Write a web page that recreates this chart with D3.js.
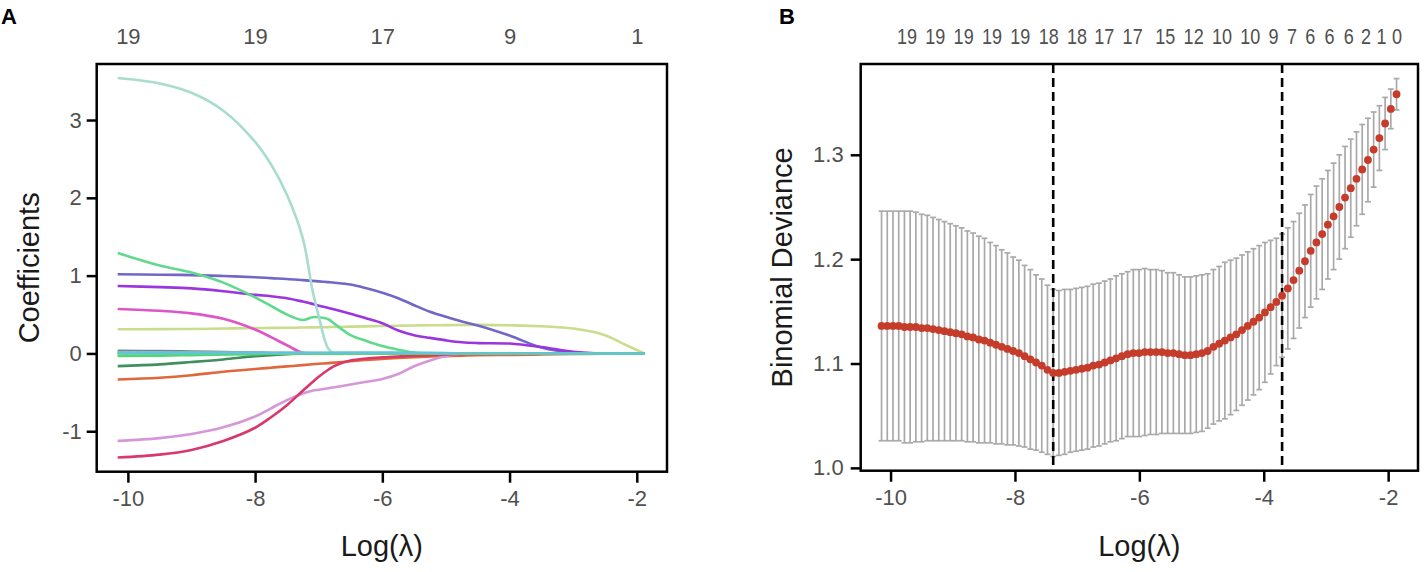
<!DOCTYPE html>
<html>
<head>
<meta charset="utf-8">
<script src="https://cdn.jsdelivr.net/npm/d3@7"></script>
<style>
  body { margin: 0; background: #fff; }
  svg text { font-family: 'Liberation Sans', Arial, sans-serif; }
</style>
</head>
<body>
<div id="chart"></div>
<script>
// ---------- panel A: coefficient paths ----------
const logLambdaA = [-10.16, -9.5, -9, -8.5, -8, -7.75, -7.5, -7.25, -7.1, -7, -6.85, -6.75, -6.5,
  -6.25, -6, -5.75, -5.5, -5.25, -5, -4.75, -4.5, -4, -3.5, -3, -2.5, -2.2, -1.88]

const coefTeal = [3.54, 3.47, 3.35, 3.12, 2.72, 2.43, 2.04, 1.48, 0.82, 0.48, 0.06, 0, 0,
  0, 0, 0, 0, 0, 0, 0, 0, 0, 0, 0, 0, 0, 0]
const coefGreen = [1.29, 1.13, 1.04, 0.91, 0.72, 0.61, 0.50, 0.43, 0.465, 0.465, 0.44, 0.38, 0.235,
  0.16, 0.095, 0.048, 0.01, 0, 0, 0, 0, 0, 0, 0, 0, 0, 0]
const coefSlate = [1.017, 1.012, 1.007, 0.995, 0.98, 0.968, 0.957, 0.942, 0.933, 0.926, 0.916, 0.909, 0.885,
  0.837, 0.78, 0.71, 0.62, 0.536, 0.47, 0.41, 0.36, 0.23, 0.075, 0.008, 0, 0, 0]
const coefViolet = [0.867, 0.852, 0.836, 0.80, 0.753, 0.735, 0.71, 0.667, 0.637, 0.613, 0.585, 0.565, 0.51,
  0.45, 0.388, 0.295, 0.235, 0.20, 0.168, 0.143, 0.133, 0.127, 0.082, 0.022, 0, 0, 0]
const coefMagenta = [0.571, 0.548, 0.515, 0.445, 0.307, 0.21, 0.105, 0.005, 0, 0, 0, 0, 0,
  0, 0, 0, 0, 0, 0, 0, 0, 0, 0, 0, 0, 0, 0]
const coefYellow = [0.31, 0.312, 0.315, 0.32, 0.326, 0.328, 0.33, 0.333, 0.335, 0.336, 0.338, 0.34, 0.344,
  0.348, 0.352, 0.356, 0.36, 0.362, 0.364, 0.366, 0.367, 0.362, 0.35, 0.32, 0.235, 0.12, 0]
const coefGray = [0.035, 0.03, 0.025, 0.018, 0.01, 0.006, 0.003, 0, 0, 0, 0, 0, 0,
  0, 0, 0, 0, 0, 0, 0, 0, 0, 0, 0, 0, 0, 0]
const coefOlive = [0.02, 0.018, 0.015, 0.01, 0.005, 0.002, 0, 0, 0, 0, 0, 0, 0,
  0, 0, 0, 0, 0, 0, 0, 0, 0, 0, 0, 0, 0, 0]
const coefSky = [0.014, 0.013, 0.012, 0.011, 0.01, 0.009, 0.008, 0.007, 0.006, 0.005, 0.004, 0.003, 0.002,
  0.001, 0, 0, 0, 0, 0, 0, 0, 0, 0, 0, 0, 0, 0]
const coefLavender = [0.008, 0.007, 0.005, 0.003, 0.001, 0, 0, 0, 0, 0, 0, 0, 0,
  0, 0, 0, 0, 0, 0, 0, 0, 0, 0, 0, 0, 0, 0]
const coefSalmon = [-0.006, -0.005, -0.004, -0.003, -0.002, -0.001, 0, 0, 0, 0, 0, 0, 0,
  0, 0, 0, 0, 0, 0, 0, 0, 0, 0, 0, 0, 0, 0]
const coefLime = [-0.01, -0.009, -0.008, -0.007, -0.006, -0.005, -0.005, -0.004, -0.004, -0.003, -0.003, -0.003, -0.002,
  -0.001, 0, 0, 0, 0, 0, 0, 0, 0, 0, 0, 0, 0, 0]
const coefLightGreen = [-0.018, -0.016, -0.013, -0.01, -0.006, -0.004, -0.002, 0, 0, 0, 0, 0, 0,
  0, 0, 0, 0, 0, 0, 0, 0, 0, 0, 0, 0, 0, 0]
const coefBrightGreen = [-0.032, -0.028, -0.022, -0.014, -0.006, -0.002, 0, 0, 0, 0, 0, 0, 0,
  0, 0, 0, 0, 0, 0, 0, 0, 0, 0, 0, 0, 0, 0]
const coefDarkGreen = [-0.163, -0.14, -0.11, -0.077, -0.035, -0.022, -0.01, 0, 0, 0, 0, 0, 0,
  0, 0, 0, 0, 0, 0, 0, 0, 0, 0, 0, 0, 0, 0]
const coefOrange = [-0.335, -0.312, -0.28, -0.236, -0.2, -0.183, -0.166, -0.15, -0.14, -0.133, -0.124, -0.118, -0.1,
  -0.084, -0.07, -0.058, -0.048, -0.04, -0.034, -0.029, -0.024, -0.019, -0.014, -0.008, -0.004, -0.001, 0]
const coefOrchid = [-1.124, -1.088, -1.035, -0.95, -0.81, -0.705, -0.60, -0.515, -0.48, -0.467, -0.448, -0.434, -0.40,
  -0.365, -0.328, -0.265, -0.165, -0.09, -0.033, 0, 0, 0, 0, 0, 0, 0, 0]
const coefCrimson = [-1.338, -1.30, -1.24, -1.125, -0.955, -0.82, -0.665, -0.48, -0.37, -0.30, -0.21, -0.16, -0.092,
  -0.065, -0.05, -0.039, -0.03, -0.022, -0.014, -0.006, 0, 0, 0, 0, 0, 0, 0]
const coefCyan = [0.004, 0.004, 0.004, 0.005, 0.005, 0.006, 0.007, 0.008, 0.008, 0.009, 0.009, 0.01, 0.01,
  0.01, 0.01, 0.01, 0.009, 0.007, 0.004, 0, 0, 0, 0, 0, 0, 0, 0]

// draw order (last on top)
const coefSeries = [coefYellow, coefSlate, coefViolet, coefMagenta, coefGreen, coefTeal, coefOlive,
  coefGray, coefLavender, coefSky, coefSalmon, coefLime, coefDarkGreen, coefOrange, coefOrchid,
  coefCrimson, coefLightGreen, coefBrightGreen, coefCyan]
const coefColors = ['#c9dd8c', '#7067c6', '#9a35e0', '#de56c6', '#5fd98a', '#a8dccf', '#a5b466',
  '#6f8985', '#b4a2ea', '#86b7e6', '#f09a7a', '#b6e36c', '#3f8f5f', '#e0663c', '#d597d9',
  '#d8386b', '#92e38f', '#4fd86c', '#62c4d6']

const ticksA = [-10, -8, -6, -4, -2]
const nzeroA = [19, 19, 17, 9, 1]
const yTicksA = [-1, 0, 1, 2, 3]

// ---------- panel B: cross-validation curve ----------
const logLambdaB = [-10.145, -10.053, -9.961, -9.869, -9.777, -9.685, -9.593, -9.501, -9.409, -9.317,
  -9.225, -9.133, -9.041, -8.949, -8.857, -8.765, -8.673, -8.581, -8.489, -8.397,
  -8.305, -8.213, -8.121, -8.029, -7.937, -7.845, -7.753, -7.661, -7.569, -7.477,
  -7.385, -7.293, -7.201, -7.109, -7.017, -6.925, -6.833, -6.741, -6.649, -6.557,
  -6.465, -6.373, -6.281, -6.189, -6.097, -6.005, -5.913, -5.821, -5.729, -5.637,
  -5.545, -5.453, -5.361, -5.269, -5.177, -5.085, -4.993, -4.901, -4.809, -4.717,
  -4.625, -4.533, -4.441, -4.349, -4.257, -4.165, -4.073, -3.981, -3.889, -3.797,
  -3.705, -3.613, -3.521, -3.429, -3.337, -3.245, -3.153, -3.061, -2.969, -2.877,
  -2.785, -2.693, -2.601, -2.509, -2.417, -2.325, -2.233, -2.141, -2.049, -1.957,
  -1.865]
const cvMean = [1.136, 1.136, 1.136, 1.136, 1.135, 1.135, 1.135, 1.134, 1.134, 1.133,
  1.132, 1.131, 1.130, 1.129, 1.128, 1.126, 1.125, 1.123, 1.122, 1.120,
  1.118, 1.116, 1.114, 1.112, 1.110, 1.107, 1.104, 1.101, 1.098, 1.094,
  1.091, 1.091, 1.092, 1.093, 1.094, 1.095, 1.096, 1.098, 1.099, 1.101,
  1.103, 1.105, 1.107, 1.109, 1.110, 1.110, 1.111, 1.111, 1.111, 1.111,
  1.110, 1.110, 1.109, 1.108, 1.108, 1.109, 1.110, 1.112, 1.116, 1.119,
  1.122, 1.125, 1.128, 1.132, 1.136, 1.140, 1.144, 1.149, 1.154, 1.159,
  1.165, 1.172, 1.180, 1.189, 1.198, 1.208, 1.216, 1.224, 1.233, 1.241,
  1.250, 1.259, 1.268, 1.277, 1.286, 1.295, 1.305, 1.316, 1.330, 1.344,
  1.358]
const cvSd = [0.110, 0.110, 0.110, 0.110, 0.111, 0.111, 0.110, 0.109, 0.108, 0.107,
  0.106, 0.105, 0.104, 0.103, 0.102, 0.101, 0.100, 0.099, 0.098, 0.096,
  0.095, 0.093, 0.092, 0.090, 0.089, 0.087, 0.086, 0.084, 0.083, 0.081,
  0.080, 0.079, 0.079, 0.078, 0.078, 0.078, 0.078, 0.078, 0.078, 0.078,
  0.078, 0.079, 0.079, 0.079, 0.080, 0.080, 0.080, 0.079, 0.079, 0.078,
  0.077, 0.077, 0.076, 0.075, 0.075, 0.075, 0.075, 0.074, 0.074, 0.074,
  0.075, 0.074, 0.073, 0.072, 0.071, 0.070, 0.069, 0.067, 0.064, 0.061,
  0.059, 0.058, 0.056, 0.055, 0.054, 0.054, 0.054, 0.053, 0.052, 0.051,
  0.050, 0.049, 0.047, 0.045, 0.043, 0.040, 0.036, 0.031, 0.025, 0.019,
  0.015]

const lambdaMin = -7.385
const lambda1se = -3.705

const nzeroAtB = [-9.743, -9.288, -8.833, -8.376, -7.921, -7.466, -7.010, -6.571, -6.116, -5.590,
  -5.135, -4.678, -4.224, -3.849, -3.553, -3.259, -2.949, -2.643, -2.365, -2.115, -1.865]
const nzeroB = [19, 19, 19, 19, 19, 18, 18, 17, 17, 15, 12, 10, 10, 9, 7, 6, 6, 6, 2, 1, 0]

const ticksB = [-10, -8, -6, -4, -2]
const yTicksB = [1.0, 1.1, 1.2, 1.3]

// ---------- layout ----------
const width = 1427
const height = 572
const tickColor = '#505050'
const titleColor = '#1a1a1a'

const svg = d3
  .select('#chart')
  .append('svg')
  .attr('width', width)
  .attr('height', height)

function styleAxis(g, size) {
  g.select('.domain').remove()
  g.selectAll('.tick line').attr('stroke', '#000').attr('stroke-width', 2.5)
  g.selectAll('.tick text')
    .attr('fill', tickColor)
    .attr('font-size', size)
}

function drawFrame(p) {
  const { box, x, y } = p

  svg
    .append('g')
    .attr('transform', 'translate(0,' + box.bottom + ')')
    .call(d3.axisBottom(x).tickValues(p.xTicks).tickSize(11).tickPadding(8).tickFormat(d => String(d)))
    .call(g => styleAxis(g, 22))

  svg
    .append('g')
    .attr('transform', 'translate(' + box.left + ',0)')
    .call(d3.axisLeft(y).tickValues(p.yTicks).tickSize(10).tickPadding(p.yPad).tickFormat(p.yFormat))
    .call(g => styleAxis(g, 22))

  const top = svg
    .append('g')
    .attr('transform', 'translate(0,' + box.top + ')')
    .call(d3.axisTop(x).tickValues(p.topAt).tickSize(0).tickPadding(20).tickFormat((d, i) => p.topLabels[i]))
    .call(g => styleAxis(g, 22))
  top.selectAll('.tick text').attr('transform', 'scale(' + p.topSqueeze + ',1)')

  svg
    .append('rect')
    .attr('x', box.left)
    .attr('y', box.top)
    .attr('width', box.right - box.left)
    .attr('height', box.bottom - box.top)
    .attr('fill', 'none')
    .attr('stroke', '#000')
    .attr('stroke-width', 2.5)

  svg
    .append('text')
    .attr('x', (box.left + box.right) / 2)
    .attr('y', 556)
    .attr('text-anchor', 'middle')
    .attr('font-size', 29)
    .attr('fill', titleColor)
    .text('Log(λ)')

  svg
    .append('text')
    .attr('transform', 'translate(' + (box.left - p.titleGap) + ',' + (box.top + box.bottom) / 2 + ') rotate(-90)')
    .attr('text-anchor', 'middle')
    .attr('font-size', 29)
    .attr('fill', titleColor)
    .text(p.yTitle)

  svg
    .append('text')
    .attr('x', p.letterX)
    .attr('y', 24)
    .attr('font-size', 22)
    .attr('font-weight', 'bold')
    .attr('fill', '#000')
    .text(p.letter)
}

// ---------- panel A ----------
const boxA = { left: 96.7, right: 667, top: 64, bottom: 471.7 }
const xA = d3.scaleLinear().domain([-10.49, -1.525]).range([boxA.left, boxA.right])
const yA = d3.scaleLinear().domain([-1.52, 3.72]).range([boxA.bottom, boxA.top])

const lineA = d3
  .line()
  .x((d, i) => xA(logLambdaA[i]))
  .y(d => yA(d))
  .curve(d3.curveCatmullRom.alpha(0.5))

svg
  .append('g')
  .selectAll('path')
  .data(coefSeries)
  .join('path')
  .attr('d', lineA)
  .attr('fill', 'none')
  .attr('stroke', (d, i) => coefColors[i])
  .attr('stroke-width', 2.6)

drawFrame({
  box: boxA, x: xA, y: yA,
  xTicks: ticksA, yTicks: yTicksA, yFormat: d => String(d), yPad: 5,
  topAt: ticksA, topLabels: nzeroA, topSqueeze: 1,
  yTitle: 'Coefficients', titleGap: 58, letter: 'A', letterX: 1
})

// ---------- panel B ----------
const boxB = { left: 860.7, right: 1418, top: 64, bottom: 470.7 }
const xB = d3.scaleLinear().domain([-10.48, -1.52]).range([boxB.left, boxB.right])
const yB = d3.scaleLinear().domain([0.9973, 1.387]).range([boxB.bottom, boxB.top])

const cv = logLambdaB.map((l, i) => ({ l, m: cvMean[i], s: cvSd[i] }))
const capW = 2.9

const bars = svg.append('g').attr('stroke', '#a9a9a9').attr('stroke-width', 1.7)
bars
  .selectAll('.bar')
  .data(cv)
  .join('line')
  .attr('class', 'bar')
  .attr('x1', d => xB(d.l))
  .attr('x2', d => xB(d.l))
  .attr('y1', d => yB(d.m - d.s))
  .attr('y2', d => yB(d.m + d.s))
bars
  .selectAll('.capTop')
  .data(cv)
  .join('line')
  .attr('class', 'capTop')
  .attr('x1', d => xB(d.l) - capW)
  .attr('x2', d => xB(d.l) + capW)
  .attr('y1', d => yB(d.m + d.s))
  .attr('y2', d => yB(d.m + d.s))
bars
  .selectAll('.capBot')
  .data(cv)
  .join('line')
  .attr('class', 'capBot')
  .attr('x1', d => xB(d.l) - capW)
  .attr('x2', d => xB(d.l) + capW)
  .attr('y1', d => yB(d.m - d.s))
  .attr('y2', d => yB(d.m - d.s))

svg
  .append('g')
  .selectAll('line')
  .data([lambdaMin, lambda1se])
  .join('line')
  .attr('x1', d => xB(d))
  .attr('x2', d => xB(d))
  .attr('y1', boxB.top)
  .attr('y2', boxB.bottom)
  .attr('stroke', '#000')
  .attr('stroke-width', 2.6)
  .attr('stroke-dasharray', '9,5')

svg
  .append('g')
  .selectAll('circle')
  .data(cv)
  .join('circle')
  .attr('cx', d => xB(d.l))
  .attr('cy', d => yB(d.m))
  .attr('r', 3.9)
  .attr('fill', '#c63c2b')

drawFrame({
  box: boxB, x: xB, y: yB,
  xTicks: ticksB, yTicks: yTicksB, yFormat: d3.format('.1f'), yPad: 7,
  topAt: nzeroAtB, topLabels: nzeroB, topSqueeze: 0.82,
  yTitle: 'Binomial Deviance', titleGap: 69, letter: 'B', letterX: 779
})
</script>
</body>
</html>
